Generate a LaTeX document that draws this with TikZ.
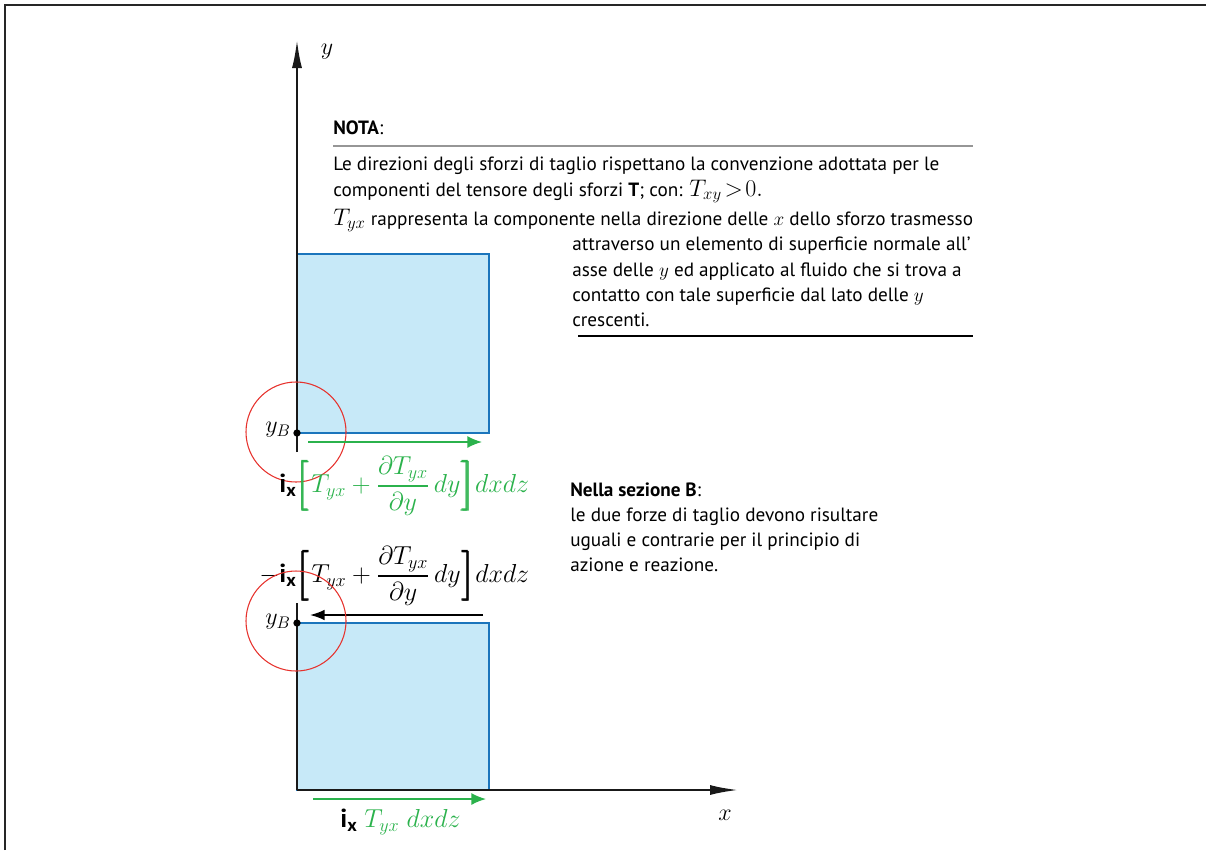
\RequirePackage{fix-cm}
\documentclass[tikz,border=0pt]{standalone}
\usepackage{amsmath}
\usepackage{fontspec}
\setmainfont{PT Sans}
\usetikzlibrary{arrows.meta}
\definecolor{boxfill}{RGB}{199,233,248}
\definecolor{boxline}{RGB}{27,117,188}
\definecolor{fgreen}{RGB}{43,178,76}
\definecolor{cred}{RGB}{230,50,45}
\definecolor{ruleg}{RGB}{150,150,150}
\newcommand{\brkstrut}{\vrule height 22pt depth 12pt width 0pt}
\newcommand{\lbrk}{\mathopen{\pmb{\left[\brkstrut\right.}}}
\newcommand{\rbrk}{\mathclose{\pmb{\left.\brkstrut\right]}}}
\newcommand{\mathbig}[1]{{\fontsize{18}{20}\selectfont$#1$}}
\begin{document}
\begin{tikzpicture}[x=0.75pt,y=-0.75pt,
  frameline/.style={line width=1.1pt, black!85},
  axis/.style={line width=1.5pt, black!90},
  axistip/.style={-{Latex[length=21pt,width=7.5pt]}},
  elem/.style={fill=boxfill, draw=boxline, line width=1.5pt},
  circ/.style={circle, draw=cred, line width=0.8pt, minimum size=75pt, inner sep=0},
  garrow/.style={fgreen, line width=1.2pt, -{Latex[length=11pt,width=9pt]}},
  karrow/.style={black, line width=1.3pt, -{Latex[length=11pt,width=8pt]}},
  dotn/.style={circle, fill=black, inner sep=0, minimum size=5.5pt},
  txt/.style={font=\fontsize{14.4}{19}\selectfont, anchor=base west, inner sep=0},
  axlabel/.style={font=\fontsize{18}{20}\selectfont, inner sep=0},
  formula/.style={font=\fontsize{19.5}{23}\selectfont, inner sep=0, anchor=west},
  rulegray/.style={ruleg, line width=0.8pt},
  ruleblack/.style={black, line width=1pt}]
\useasboundingbox (0,0) rectangle (1206,850);
% frame
\coordinate (fbl) at (5,850);
\coordinate (ftl) at (5,5);
\coordinate (ftr) at (1206,5);
\draw[frameline] (fbl) -- (ftl) -- (ftr);

% ---------- upper element ----------
\draw[elem] (297,254) rectangle (489,433);
\coordinate (ytop) at (297,40);
\coordinate (ybot) at (297,452);
\draw[axis, axistip] (ybot) -- (ytop);
\node[axlabel] (ylab) at (327,52) {$y$};
\node[circ] (c1) at (296,432) {};
\node[dotn] (B1) at (297,433) {};
\node[axlabel] (yB1) at (278,430) {$y_B$};
\coordinate (g1s) at (308,442);
\coordinate (g1e) at (482,442);
\draw[garrow] (g1s) -- (g1e);
\node[formula, text=fgreen] (f1) at (279,486)
  {{\color{black}$\textbf{i}_{\textbf{x}}$}$\lbrk T_{yx}+\dfrac{\partial T_{yx}}{\partial y}\,dy\rbrk dxdz$};

% ---------- lower element ----------
\draw[elem] (297,623) rectangle (489,790);
\coordinate (y2top) at (297,603);
\coordinate (orig) at (297,790);
\coordinate (xtip) at (738,790);
\draw[axis] (y2top) -- (orig);
\draw[axis, axistip] (orig) -- (xtip);
\node[axlabel] (xlab) at (725,815) {$x$};
\node[formula, text=black] (f2) at (259,576)
  {$-\textbf{i}_{\textbf{x}}\lbrk T_{yx}+\dfrac{\partial T_{yx}}{\partial y}\,dy\rbrk dxdz$};
\coordinate (k2s) at (483,615);
\coordinate (k2e) at (310,615);
\draw[karrow] (k2s) -- (k2e);
\node[circ] (c2) at (296,621) {};
\node[dotn] (B2) at (297,623) {};
\node[axlabel] (yB2) at (278,622) {$y_B$};
\coordinate (g2s) at (313,799);
\coordinate (g2e) at (486,799);
\draw[garrow] (g2s) -- (g2e);
\node[formula, text=fgreen] (f3) at (340,822)
  {{\color{black}$\textbf{i}_{\textbf{x}}$}\ $T_{yx}\;dxdz$};

% ---------- NOTA ----------
\node[txt] (nota) at (333,134) {\textbf{NOTA}:};
\coordinate (r1a) at (333,146);
\coordinate (r1b) at (973,146);
\draw[rulegray] (r1a) -- (r1b);
\node[txt] (n1) at (333,170) {Le direzioni degli sforzi di taglio rispettano la convenzione adottata per le};
\node[txt] (n2) at (333,196) {componenti del tensore degli sforzi \textbf{T}; con: \mathbig{T_{xy}\!>\!0.}};
\node[txt] (n3) at (333,225) {\mathbig{T_{yx}} rappresenta la componente nella direzione delle $x$ dello sforzo trasmesso};
\node[txt] (n4) at (572,250) {attraverso un elemento di superficie normale all'};
\node[txt] (n5) at (572,276) {asse delle $y$ ed applicato al fluido che si trova a};
\node[txt] (n6) at (572,301) {contatto con tale superficie dal lato delle $y$};
\node[txt] (n7) at (572,326) {crescenti.};
\coordinate (r2a) at (578,336);
\coordinate (r2b) at (973,336);
\draw[ruleblack] (r2a) -- (r2b);

% ---------- Nella sezione B ----------
\node[txt] (sb1) at (570,496) {\textbf{Nella sezione B}:};
\node[txt] (sb2) at (570,521) {le due forze di taglio devono risultare};
\node[txt] (sb3) at (570,546) {uguali e contrarie per il principio di};
\node[txt] (sb4) at (570,571) {azione e reazione.};
\end{tikzpicture}
\end{document}
